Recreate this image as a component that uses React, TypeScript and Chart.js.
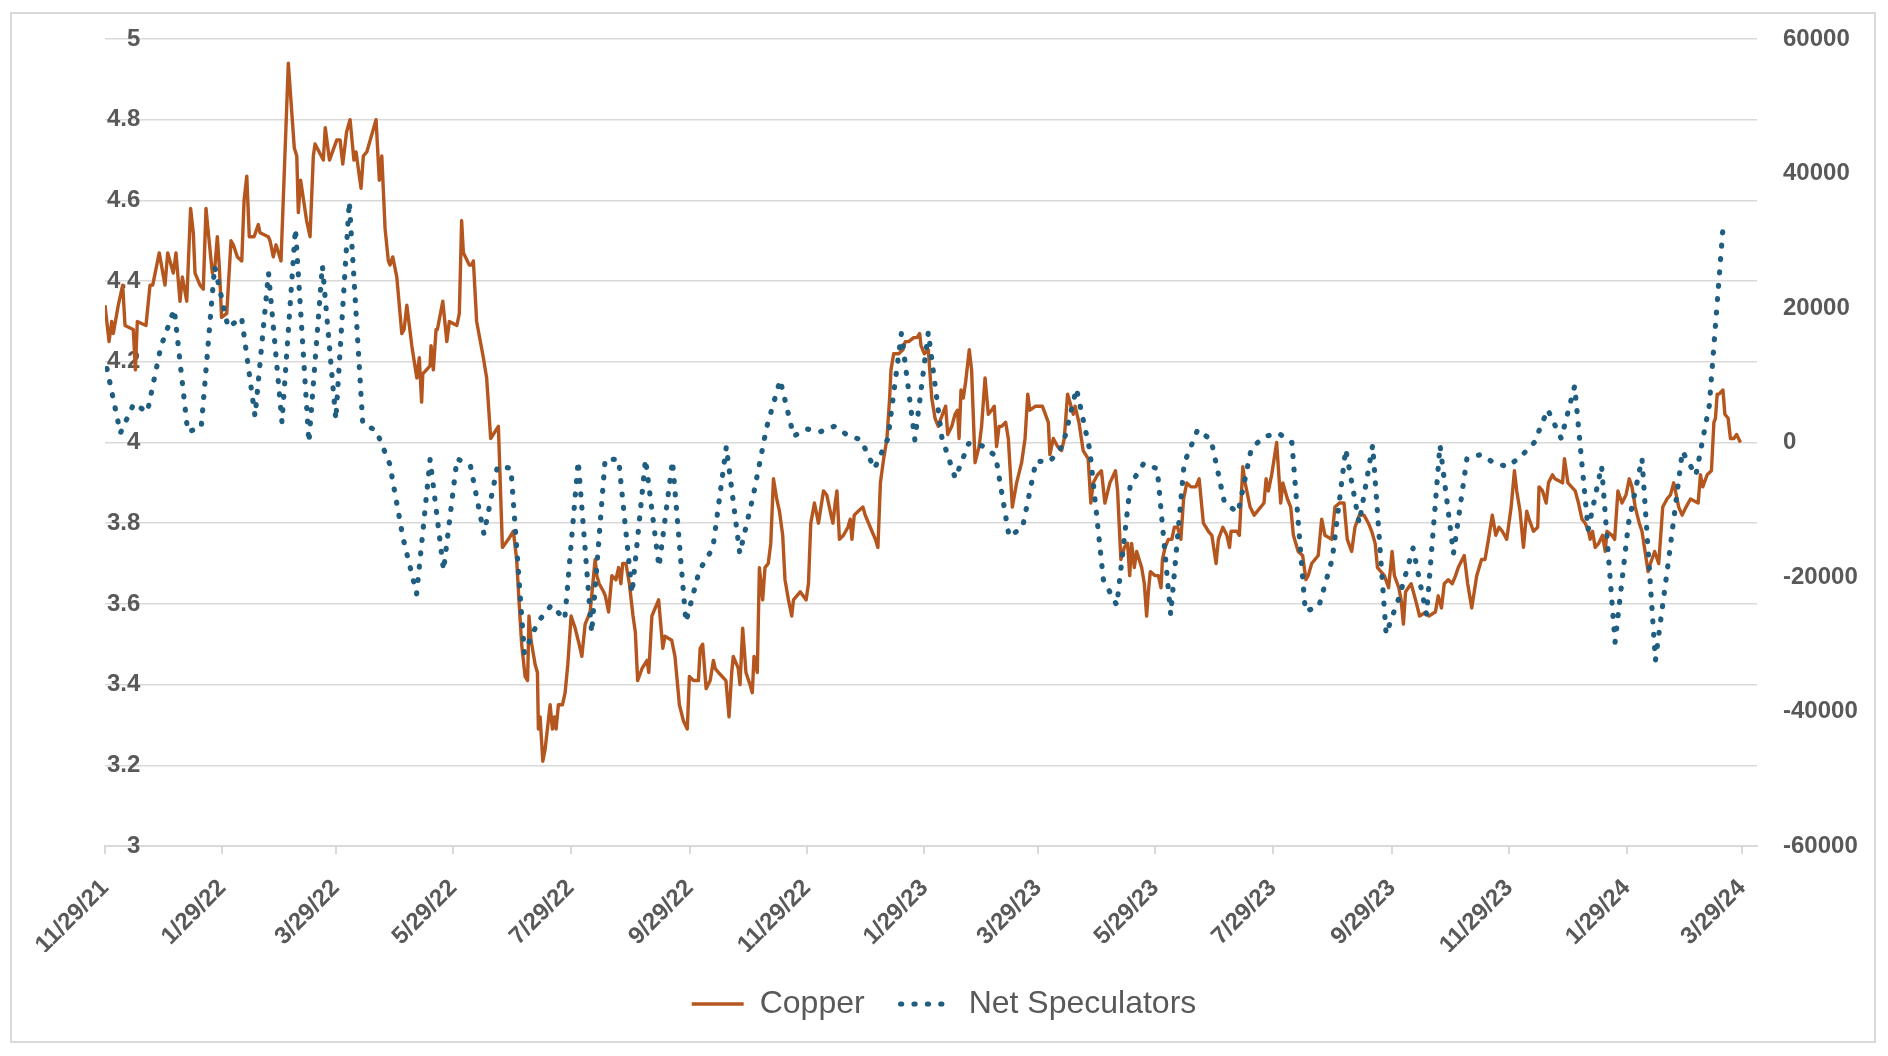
import React, { useEffect, useRef } from "react";
import { Chart, registerables } from "chart.js";

Chart.register(...registerables);

// X axis: days since 11/29/21
const xTickDays = [0, 61, 120, 181, 242, 304, 365, 426, 485, 546, 607, 669, 730, 791, 851];
const xTickLabels = [
  "11/29/21", "1/29/22", "3/29/22", "5/29/22", "7/29/22", "9/29/22", "11/29/22",
  "1/29/23", "3/29/23", "5/29/23", "7/29/23", "9/29/23", "11/29/23", "1/29/24", "3/29/24",
];
const xAxisMaxDay = 858.8;

// Copper price (left axis), day offsets since 11/29/21
const copperDays = [
  0, 2.1, 3.5, 4.3, 6.9, 9.2, 10.4, 14.7, 15.8, 16.8,
  21.3, 23.4, 24.8, 28.2, 31.2, 32.6, 35.5, 36.9, 39.0, 40.2,
  42.5, 44.5, 45.9, 46.8, 49.4, 51.1, 52.5, 53.5, 55.8, 57.2,
  58.4, 59.5, 60.6, 63.3, 65.5, 66.7, 68.8, 71.1, 72.3, 73.7,
  75.0, 77.5, 79.7, 80.6, 84.9, 85.8, 87.5, 88.9, 91.5, 95.3,
  98.4, 99.7, 100.5, 101.7, 104.8, 106.6, 108.3, 109.2, 113.5, 114.5,
  116.7, 120.5, 122.2, 123.6, 125.6, 127.4, 129.4, 130.5, 133.1, 134.3,
  136.1, 140.9, 142.6, 143.9, 145.6, 147.3, 148.2, 149.6, 151.7, 154.3,
  155.5, 156.9, 159.5, 162.1, 163.4, 164.6, 165.2, 169.0, 169.5, 170.7,
  172.1, 172.8, 175.6, 177.7, 179.0, 182.9, 184.2, 185.4, 186.3, 189.4,
  190.6, 191.5, 193.2, 196.7, 198.4, 200.5, 204.5, 206.6, 209.7, 212.3,
  214.0, 215.2, 216.6, 218.4, 219.7, 220.4, 221.5, 223.6, 224.8, 225.3,
  226.2, 227.6, 228.8, 231.4, 232.6, 233.7, 234.5, 235.7, 237.8, 239.2,
  240.6, 242.3, 244.4, 246.5, 247.9, 249.6, 252.2, 254.8, 255.7, 256.9,
  259.2, 260.1, 261.8, 263.5, 265.6, 267.0, 268.2, 269.1, 270.8, 272.6,
  274.5, 275.7, 276.9, 279.2, 281.8, 282.7, 284.3, 287.8, 290.0, 291.1,
  294.6, 296.3, 298.6, 300.7, 302.7, 303.8, 305.9, 308.5, 309.4, 310.7,
  312.5, 314.6, 316.3, 317.2, 318.9, 322.8, 324.4, 325.8, 326.6, 329.2,
  330.1, 331.5, 333.2, 335.3, 336.5, 337.4, 339.1, 340.2, 341.9, 343.1,
  344.8, 346.1, 347.5, 349.2, 350.6, 352.3, 353.5, 355.3, 357.0, 357.9,
  361.4, 364.5, 365.7, 366.9, 368.8, 370.9, 373.5, 375.2, 377.0, 378.4,
  379.6, 380.5, 381.8, 383.9, 386.2, 387.4, 388.3, 389.5, 391.7, 394.0,
  395.2, 398.7, 400.5, 401.8, 403.1, 404.8, 406.5, 407.9, 408.6, 410.0,
  412.6, 414.8, 416.0, 417.8, 420.4, 422.1, 423.5, 424.2, 425.9, 428.0,
  429.8, 431.5, 433.2, 434.6, 437.0, 438.1, 440.2, 441.9, 443.2, 444.0,
  445.0, 446.2, 447.4, 449.3, 450.5, 452.3, 454.4, 455.7, 457.5, 459.2,
  460.9, 462.3, 463.5, 464.8, 466.1, 468.2, 469.6, 471.7, 473.9, 476.5,
  478.3, 479.7, 480.8, 483.8, 485.5, 487.3, 490.4, 491.2, 493.0, 495.2,
  497.3, 498.7, 500.4, 502.2, 503.4, 504.3, 506.3, 508.5, 511.1, 512.5,
  513.7, 516.0, 518.0, 519.8, 522.4, 525.3, 526.4, 528.1, 529.9, 531.6,
  532.7, 533.7, 535.1, 536.3, 538.9, 540.3, 541.5, 542.4, 543.4, 545.9,
  547.6, 549.0, 549.7, 551.1, 552.8, 554.6, 555.9, 557.6, 559.3, 560.7,
  562.4, 564.5, 567.1, 568.8, 571.0, 573.6, 575.4, 577.6, 578.8, 581.1,
  583.2, 584.6, 585.4, 588.4, 589.7, 591.5, 592.7, 595.3, 597.4, 599.1,
  602.5, 603.6, 604.8, 606.5, 609.1, 611.2, 612.3, 614.7, 616.4, 617.8,
  620.3, 622.6, 624.3, 625.5, 627.3, 630.7, 632.5, 634.2, 637.7, 639.4,
  641.7, 644.1, 645.8, 648.1, 649.8, 652.1, 654.5, 656.8, 658.5, 660.3,
  661.5, 665.1, 667.3, 669.1, 670.3, 672.6, 673.8, 675.0, 676.1, 679.0,
  681.3, 683.4, 686.8, 688.2, 691.6, 693.1, 694.8, 696.2, 698.3, 700.4,
  702.1, 703.5, 706.6, 708.4, 710.5, 713.1, 715.6, 717.4, 719.2, 721.2,
  723.0, 724.7, 726.4, 728.7, 731.0, 732.7, 733.9, 735.6, 737.4, 739.1,
  740.3, 742.6, 744.8, 745.5, 747.3, 749.2, 750.4, 752.5, 753.8, 757.7,
  758.7, 760.5, 764.3, 766.0, 767.8, 769.5, 771.2, 772.1, 773.3, 774.7,
  776.5, 778.5, 779.9, 780.8, 783.4, 784.8, 786.5, 788.6, 790.7, 792.4,
  793.8, 795.5, 797.6, 799.0, 802.2, 803.4, 805.6, 807.7, 809.8, 812.0,
  813.8, 815.5, 816.4, 818.1, 819.9, 821.9, 824.2, 828.2, 829.4, 830.6,
  832.9, 835.1, 836.4, 837.2, 838.1, 839.0, 841.1, 842.1, 843.8, 845.0,
  846.8, 848.2, 850.2,
];
const copperPrices = [
  4.34, 4.25, 4.30, 4.27, 4.34, 4.39, 4.29, 4.28, 4.18, 4.30,
  4.29, 4.39, 4.39, 4.47, 4.39, 4.47, 4.42, 4.47, 4.35, 4.41,
  4.35, 4.58, 4.52, 4.42, 4.39, 4.38, 4.58, 4.53, 4.42, 4.44,
  4.51, 4.43, 4.31, 4.32, 4.50, 4.49, 4.46, 4.45, 4.60, 4.66,
  4.51, 4.51, 4.54, 4.52, 4.51, 4.50, 4.46, 4.49, 4.45, 4.94,
  4.73, 4.71, 4.57, 4.65, 4.55, 4.51, 4.71, 4.74, 4.70, 4.78,
  4.70, 4.75, 4.75, 4.69, 4.77, 4.80, 4.70, 4.72, 4.63, 4.71,
  4.72, 4.80, 4.65, 4.71, 4.53, 4.45, 4.44, 4.46, 4.41, 4.27,
  4.28, 4.34, 4.24, 4.16, 4.21, 4.10, 4.17, 4.19, 4.24, 4.18,
  4.28, 4.28, 4.35, 4.25, 4.30, 4.29, 4.32, 4.55, 4.47, 4.44,
  4.44, 4.45, 4.30, 4.21, 4.16, 4.01, 4.04, 3.74, 3.76, 3.78,
  3.71, 3.61, 3.50, 3.42, 3.41, 3.57, 3.51, 3.45, 3.43, 3.29,
  3.32, 3.21, 3.24, 3.35, 3.29, 3.32, 3.29, 3.35, 3.35, 3.38,
  3.45, 3.57, 3.54, 3.50, 3.47, 3.55, 3.58, 3.71, 3.67, 3.65,
  3.63, 3.62, 3.58, 3.67, 3.66, 3.69, 3.65, 3.70, 3.70, 3.65,
  3.57, 3.53, 3.41, 3.44, 3.46, 3.43, 3.57, 3.61, 3.49, 3.52,
  3.51, 3.47, 3.35, 3.31, 3.29, 3.42, 3.41, 3.41, 3.49, 3.50,
  3.39, 3.41, 3.46, 3.44, 3.43, 3.41, 3.32, 3.43, 3.47, 3.44,
  3.40, 3.54, 3.43, 3.40, 3.38, 3.47, 3.43, 3.69, 3.61, 3.69,
  3.70, 3.75, 3.91, 3.86, 3.83, 3.77, 3.66, 3.61, 3.57, 3.61,
  3.63, 3.61, 3.65, 3.80, 3.85, 3.80, 3.88, 3.87, 3.83, 3.80,
  3.85, 3.88, 3.76, 3.77, 3.79, 3.81, 3.76, 3.82, 3.83, 3.84,
  3.82, 3.78, 3.76, 3.74, 3.90, 3.96, 4.01, 4.11, 4.18, 4.22,
  4.22, 4.23, 4.25, 4.25, 4.26, 4.26, 4.27, 4.24, 4.22, 4.23,
  4.11, 4.06, 4.04, 4.06, 4.09, 4.02, 4.04, 4.07, 4.08, 4.01,
  4.13, 4.11, 4.15, 4.23, 4.18, 3.95, 3.99, 4.04, 4.16, 4.07,
  4.08, 4.09, 3.99, 4.04, 4.04, 4.05, 4.01, 3.84, 3.90, 3.95,
  4.01, 4.12, 4.08, 4.09, 4.09, 4.09, 4.05, 3.97, 4.01, 3.99,
  3.98, 4.01, 4.12, 4.09, 4.07, 4.09, 4.05, 3.98, 3.96, 3.85,
  3.90, 3.92, 3.93, 3.85, 3.90, 3.93, 3.88, 3.71, 3.74, 3.75,
  3.67, 3.75, 3.69, 3.73, 3.69, 3.65, 3.57, 3.63, 3.68, 3.67,
  3.67, 3.64, 3.71, 3.74, 3.76, 3.76, 3.79, 3.79, 3.76, 3.86,
  3.90, 3.89, 3.89, 3.91, 3.80, 3.78, 3.77, 3.70, 3.76, 3.79,
  3.77, 3.74, 3.78, 3.78, 3.77, 3.94, 3.90, 3.84, 3.82, 3.83,
  3.85, 3.91, 3.88, 3.92, 4.00, 3.85, 3.90, 3.86, 3.84, 3.77,
  3.73, 3.72, 3.66, 3.67, 3.70, 3.72, 3.81, 3.77, 3.76, 3.84,
  3.85, 3.85, 3.76, 3.73, 3.79, 3.82, 3.82, 3.80, 3.78, 3.75,
  3.69, 3.67, 3.64, 3.73, 3.67, 3.64, 3.61, 3.55, 3.63, 3.65,
  3.61, 3.57, 3.58, 3.57, 3.58, 3.62, 3.59, 3.65, 3.66, 3.65,
  3.67, 3.69, 3.72, 3.65, 3.59, 3.67, 3.71, 3.71, 3.76, 3.82,
  3.77, 3.79, 3.78, 3.76, 3.84, 3.93, 3.88, 3.83, 3.74, 3.83,
  3.81, 3.78, 3.79, 3.89, 3.88, 3.85, 3.90, 3.92, 3.91, 3.90,
  3.96, 3.90, 3.88, 3.85, 3.81, 3.80, 3.78, 3.76, 3.78, 3.74,
  3.75, 3.77, 3.73, 3.78, 3.77, 3.76, 3.88, 3.85, 3.87, 3.91,
  3.89, 3.84, 3.80, 3.78, 3.68, 3.70, 3.73, 3.70, 3.84, 3.86,
  3.87, 3.90, 3.88, 3.84, 3.82, 3.84, 3.86, 3.85, 3.92, 3.89,
  3.92, 3.93, 4.05, 4.06, 4.12, 4.12, 4.13, 4.07, 4.06, 4.01,
  4.01, 4.02, 4.00,
];

// Net speculators (right axis), weekly from Tuesday 11/30/21 (day 1)
const netSpecFirstDay = 1;
const netSpecStepDays = 7;
const netSpecValues = [
  11000, 1400, 5800, 4500, 14200, 19800, 1600, 2200, 26200, 17100,
  18600, 3900, 25200, 3000, 31800, 0, 26300, 3400, 35800, 2750,
  1800, -3200, -14300, -22500, -2500, -19000, -2400, -3500, -13600, -3600,
  -3800, -31300, -26700, -24200, -26300, -2750, -28300, -2500, -2500, -22400,
  -2500, -18500, -2750, -26700, -19000, -15700, -600, -16500, -7900, 2300,
  9300, 950, 2000, 1600, 2400, 1100, 400, -3900, 600, 16200,
  400, 16400, 800, -5300, -150, -500, -2000, -14000, -12600, -2750,
  -2900, -400, 8000, -1200, -20400, -24200, -6300, -3100, -3900, -25600,
  -3100, 1900, 400, -9000, -10400, -800, 900, 1400, 0, -25100,
  -24400, -17300, -1000, -12000, -400, -28500, -22800, -15700, -25600, -400,
  -16500, -2400, -1800, -3000, -3600, -2100, 0, 4900, 600, 8400,
  -13000, -3500, -29700, -12000, -2400, -32400, -17100, -1300, -4900, 5500,
  31500,
];

const COPPER_COLOR = "#B5561F";
const NETSPEC_COLOR = "#1F5E81";
const GRID_COLOR = "#D9D9D9";
const TEXT_COLOR = "#595959";
const FONT_FAMILY = "'Liberation Sans', Arial, Helvetica, sans-serif";

export default function App() {
  const canvasRef = useRef<HTMLCanvasElement | null>(null);

  useEffect(() => {
    const canvas = canvasRef.current;
    if (!canvas) return;
    Chart.defaults.font.family = FONT_FAMILY;

    const copperData = copperDays.map((d, i) => ({ x: d, y: copperPrices[i] }));
    const netData = netSpecValues.map((v, i) => ({ x: netSpecFirstDay + netSpecStepDays * i, y: v }));

    const chart = new Chart(canvas, {
      type: "line",
      data: {
        datasets: [
          {
            label: "Copper",
            data: copperData,
            yAxisID: "y",
            borderColor: COPPER_COLOR,
            backgroundColor: COPPER_COLOR,
            borderWidth: 3.4,
            borderJoinStyle: "round",
            pointRadius: 0,
            tension: 0,
            order: 2,
          },
          {
            label: "Net Speculators",
            data: netData,
            yAxisID: "y1",
            borderColor: NETSPEC_COLOR,
            backgroundColor: NETSPEC_COLOR,
            borderWidth: 5.2,
            borderDash: [1, 12.4],
            borderCapStyle: "round",
            borderJoinStyle: "round",
            pointRadius: 0,
            tension: 0,
            order: 1,
          },
        ],
      },
      options: {
        responsive: false,
        animation: false,
        devicePixelRatio: 1,
        events: [],
        layout: { padding: { top: 31, bottom: 18, left: 0, right: 0 } },
        plugins: {
          tooltip: { enabled: false },
          legend: {
            position: "bottom",
            labels: {
              usePointStyle: true,
              pointStyle: "line",
              pointStyleWidth: 52,
              padding: 36,
              color: TEXT_COLOR,
              font: { size: 32, family: FONT_FAMILY },
              generateLabels: (ch: any) =>
                ch.data.datasets.map((ds: any, i: number) => ({
                  text: ds.label,
                  datasetIndex: i,
                  fontColor: TEXT_COLOR,
                  strokeStyle: ds.borderColor,
                  fillStyle: ds.borderColor,
                  lineWidth: ds.borderWidth,
                  lineDash: ds.borderDash || [],
                  lineCap: ds.borderCapStyle || "butt",
                  lineJoin: "round",
                  pointStyle: "line",
                  hidden: false,
                })),
            },
          },
        },
        scales: {
          x: {
            type: "linear",
            position: "bottom",
            min: 0,
            max: xAxisMaxDay,
            afterBuildTicks: (scale: any) => {
              scale.ticks = xTickDays.map((v) => ({ value: v }));
            },
            afterFit: (scale: any) => {
              scale.height = 106;
            },
            ticks: {
              autoSkip: false,
              minRotation: 45,
              maxRotation: 45,
              padding: 20,
              color: TEXT_COLOR,
              font: { size: 24, weight: "bold", family: FONT_FAMILY },
              callback: (value: any) => {
                const idx = xTickDays.indexOf(Number(value));
                return idx >= 0 ? xTickLabels[idx] : "";
              },
            },
            grid: {
              display: true,
              drawOnChartArea: false,
              drawTicks: true,
              tickLength: 8,
              color: GRID_COLOR,
              lineWidth: 2,
            },
            border: { display: true, color: GRID_COLOR, width: 2 },
          },
          y: {
            position: "left",
            min: 3,
            max: 5,
            afterFit: (scale: any) => {
              scale.width = 97;
            },
            ticks: {
              stepSize: 0.2,
              mirror: true,
              crossAlign: "far",
              padding: 2,
              color: TEXT_COLOR,
              font: { size: 24, weight: "bold", family: FONT_FAMILY },
              callback: (value: any) => String(Math.round(Number(value) * 10) / 10),
            },
            grid: { color: GRID_COLOR, lineWidth: 1.5, drawTicks: false },
            border: { display: false },
          },
          y1: {
            position: "right",
            min: -60000,
            max: 60000,
            afterFit: (scale: any) => {
              scale.width = 123;
            },
            ticks: {
              stepSize: 20000,
              padding: 2,
              color: TEXT_COLOR,
              font: { size: 24, weight: "bold", family: FONT_FAMILY },
              callback: (value: any) => String(Math.round(Number(value))),
            },
            grid: {
              display: true,
              drawOnChartArea: false,
              drawTicks: true,
              tickLength: 24,
              tickColor: "rgba(0,0,0,0)",
              color: "rgba(0,0,0,0)",
            },
            border: { display: false },
          },
        },
      },
    } as any);

    return () => {
      chart.destroy();
    };
  }, []);

  return (
    <div style={{ position: "relative", width: 1872, height: 1040, background: "#fff" }}>
      <canvas
        ref={canvasRef}
        width={1872}
        height={1040}
        style={{ position: "absolute", left: 0, top: 0, width: 1872, height: 1040, display: "block" }}
      />
      <div
        style={{
          position: "absolute",
          left: 2,
          top: 4,
          width: 1866,
          height: 1031,
          boxSizing: "border-box",
          border: "2px solid #D9D9D9",
          pointerEvents: "none",
        }}
      />
    </div>
  );
}
